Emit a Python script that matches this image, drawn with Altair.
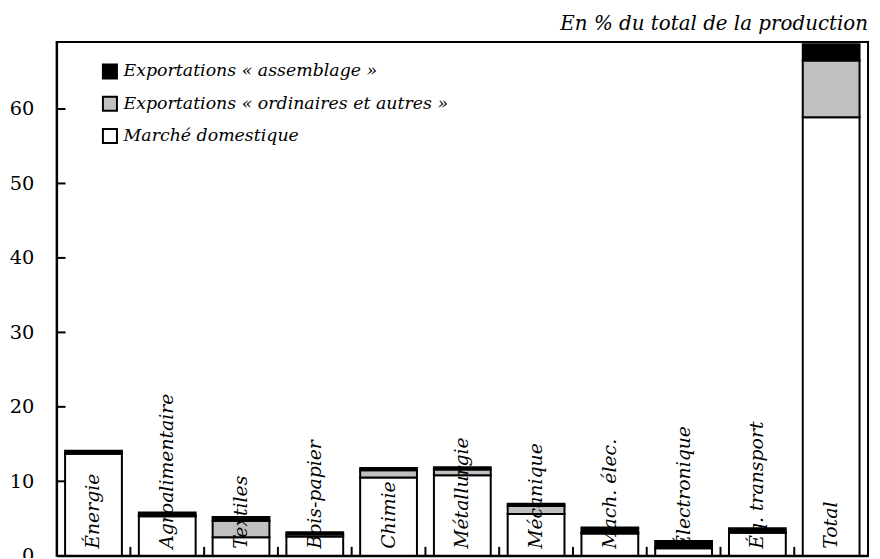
import altair as alt
import pandas as pd

categories = ["Énergie", "Agroalimentaire", "Textiles", "Bois-papier", "Chimie",
              "Métallurgie", "Mécanique", "Mach. élec.", "Électronique",
              "Éq. transport", "Total"]
domestique = [13.7, 5.3, 2.5, 2.6, 10.5, 10.8, 5.6, 3.0, 1.0, 3.1, 58.9]
ordinaires = [0.1, 0.1, 2.2, 0.3, 1.0, 0.8, 1.1, 0.1, 0.15, 0.1, 7.6]
assemblage = [0.3, 0.4, 0.5, 0.25, 0.3, 0.3, 0.3, 0.7, 0.85, 0.5, 2.2]

series_names = ["Exportations « assemblage »",
                "Exportations « ordinaires et autres »",
                "Marché domestique"]
series_colors = ["#000000", "#c0c0c0", "#ffffff"]
y_ticks = [0, 10, 20, 30, 40, 50, 60]

rows = []
for i, c in enumerate(categories):
    for k, (name, vals) in enumerate(((series_names[2], domestique),
                                       (series_names[1], ordinaires),
                                       (series_names[0], assemblage))):
        rows.append({"cat": c, "serie": name, "val": vals[i], "ord": k})
df = pd.DataFrame(rows)

FONT = "DejaVu Serif"
W, H = 818, 518
P_IN, P_OUT = 0.23, 0.115
step = W / (len(categories) - P_IN + 2 * P_OUT)

xscale = alt.Scale(domain=categories, paddingInner=P_IN, paddingOuter=P_OUT)
yscale = alt.Scale(domain=[0, 69], nice=False, zero=True)

bars = alt.Chart(df).mark_bar(stroke="black", strokeWidth=2).encode(
    x=alt.X("cat:N", scale=xscale, sort=categories,
            axis=alt.Axis(labels=False, ticks=False, title=None,
                          domainColor="black", domainWidth=2)),
    y=alt.Y("val:Q", stack="zero", scale=yscale,
            axis=alt.Axis(values=y_ticks, ticks=False, tickSize=0, labelPadding=23,
                          labelFont=FONT, labelFontSize=19.5, labelColor="black",
                          title=None, grid=False, domainColor="black", domainWidth=2)),
    color=alt.Color("serie:N", scale=alt.Scale(domain=series_names, range=series_colors),
                    legend=alt.Legend(orient="none", legendX=45, legendY=21, title=None,
                                      symbolType="square", symbolSize=200,
                                      symbolStrokeColor="black", symbolStrokeWidth=2,
                                      labelFont=FONT, labelFontSize=17.5,
                                      labelFontStyle="italic", labelColor="black",
                                      labelLimit=600, rowPadding=9.5, labelOffset=5)),
    order=alt.Order("ord:Q"),
)

ytick_df = pd.DataFrame({"v": y_ticks[1:]})
yticks = alt.Chart(ytick_df).mark_rule(color="black", strokeWidth=2).encode(
    y=alt.Y("v:Q", scale=yscale),
    x=alt.value(0), x2=alt.value(9),
)

xtick_df = pd.DataFrame({"cat": categories[:-1]})
xticks = alt.Chart(xtick_df).mark_rule(color="black", strokeWidth=2, xOffset=step / 2).encode(
    x=alt.X("cat:N", scale=xscale, sort=categories),
    y=alt.value(H), y2=alt.value(H - 9),
)

label_df = pd.DataFrame({"cat": categories})
labels = alt.Chart(label_df).mark_text(
    angle=270, align="left", baseline="middle", font=FONT, fontSize=19,
    fontStyle="italic", color="black"
).encode(
    x=alt.X("cat:N", scale=xscale, sort=categories),
    y=alt.value(H - 7),
    text="cat:N",
)

chart = alt.layer(bars, yticks, xticks, labels).properties(
    width=W, height=H,
    title=alt.TitleParams("En % du total de la production", anchor="end", font=FONT,
                          fontSize=20, fontStyle="italic", fontWeight="normal",
                          color="black", offset=8),
    padding={"left": 49, "top": 32, "right": 4, "bottom": 0},
    autosize=alt.AutoSizeParams(type="none"),
).configure_view(stroke="black", strokeWidth=2)

chart.save("out.html", embed_options={"renderer": "svg", "actions": False})
